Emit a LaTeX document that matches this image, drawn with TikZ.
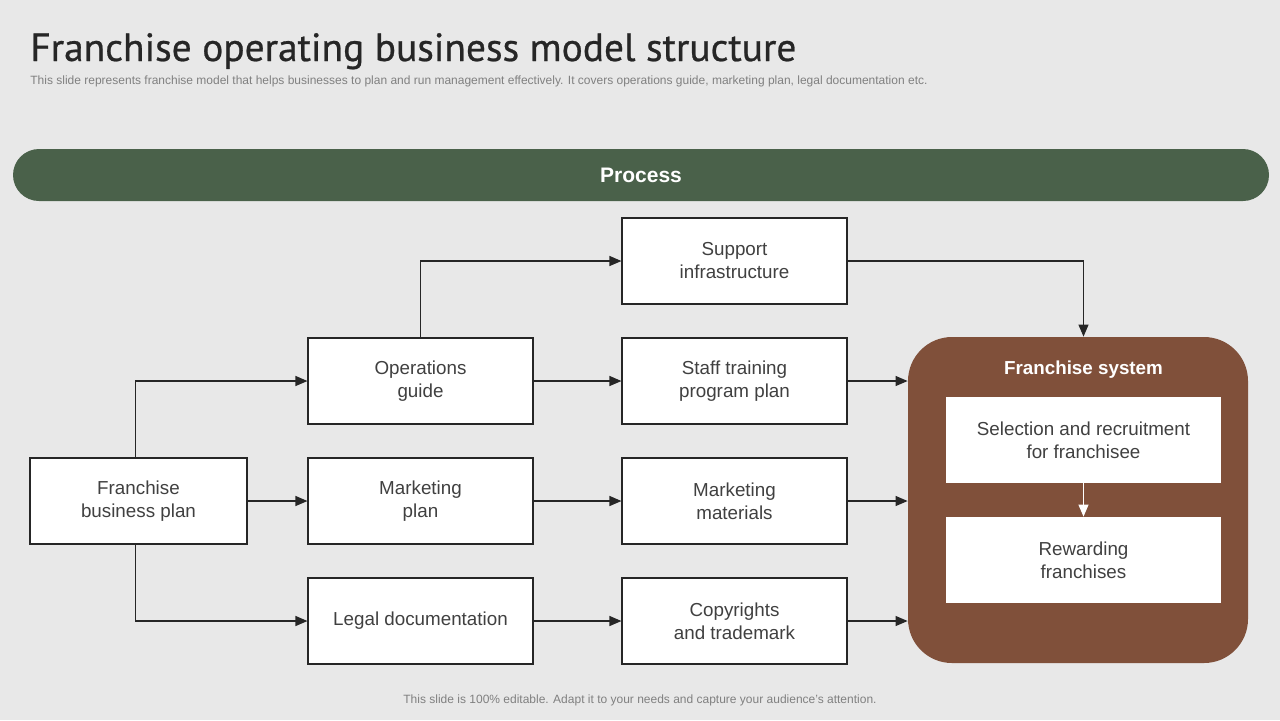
\documentclass[tikz,border=0pt]{standalone}
\usepackage{fontspec}
\setmainfont{Liberation Sans}
\newfontfamily\titlefont[FakeBold=0.6]{PT Sans}
\usetikzlibrary{arrows.meta}

\definecolor{slidebg}{HTML}{E8E8E8}
\definecolor{procgreen}{HTML}{4A614A}
\definecolor{sysbrown}{HTML}{80503A}
\definecolor{boxtext}{HTML}{404040}

\tikzset{
  box/.style={draw=black!85, line width=0.55pt, fill=white, minimum width=112.5pt,
    minimum height=43pt, align=center, text=boxtext,
    font=\fontsize{9.4}{11.5}\selectfont},
  innerbox/.style={fill=white, minimum width=137.5pt, minimum height=43pt,
    align=center, text=boxtext, font=\fontsize{9.4}{11.5}\selectfont},
  arr/.style={-{Triangle[length=6pt, width=5pt]}, line width=0.55pt, draw=black!85}
}

\begin{document}
\begin{tikzpicture}[x=0.5pt, y=-0.5pt]
    \useasboundingbox (0, 0) rectangle (1280, 720);
    \fill [slidebg] (0, 0) rectangle (1280, 720);

    \node [anchor=base west, inner sep=0, text=black!85,
      font=\titlefont\fontsize{19.7}{21}\selectfont] (title) at (30, 61)
      {Franchise operating business model structure};
    \node [anchor=base west, inner sep=0, text=black!50,
      font=\fontsize{6}{7}\selectfont] (subtitle) at (30, 84)
      {This slide represents franchise model that helps businesses to plan and run management effectively. It covers operations guide, marketing plan, legal documentation etc.};

    \node [fill=procgreen, rounded corners=13pt, minimum width=628pt, minimum height=26pt,
      text=white, font=\bfseries\fontsize{10.5}{12}\selectfont] (process) at (641, 175) {Process};

    \node [box, minimum width=108.5pt] (fbp) at (138.5, 501) {Franchise\\business plan};

    \node [box] (ops) at (420.5, 381) {Operations\\guide};
    \node [box] (mkp) at (420.5, 501) {Marketing\\plan};
    \node [box] (legal) at (420.5, 621) {Legal documentation};

    \node [box] (sup) at (734.5, 261) {Support\\infrastructure};
    \node [box] (staff) at (734.5, 381) {Staff training\\program plan};
    \node [box] (mkm) at (734.5, 501) {Marketing\\materials};
    \node [box] (copy) at (734.5, 621) {Copyrights\\and trademark};

    \node [fill=sysbrown, rounded corners=22pt, minimum width=170pt, minimum height=163pt]
      (fsys) at (1078, 500) {};
    \node [text=white, font=\bfseries\fontsize{9.4}{11}\selectfont] (fsyslabel) at (1083.5, 370)
      {Franchise system};
    \node [innerbox] (sel) at (1083.5, 440) {Selection and recruitment\\for franchisee};
    \node [innerbox] (rew) at (1083.5, 560) {Rewarding\\franchises};

    \draw [arr] ([xshift=-1.5pt]fbp.north) |- (ops.west);
    \draw [arr] (fbp.east) -- (mkp.west);
    \draw [arr] ([xshift=-1.5pt]fbp.south) |- (legal.west);

    \draw [arr] (ops.north) |- (sup.west);
    \draw [arr] (ops.east) -- (staff.west);
    \draw [arr] (mkp.east) -- (mkm.west);
    \draw [arr] (legal.east) -- (copy.west);

    \draw [arr] (sup.east) -| (fsys.north -| sel.north);
    \draw [arr] (staff.east) -- (staff.east -| fsys.west);
    \draw [arr] (mkm.east) -- (mkm.east -| fsys.west);
    \draw [arr] (copy.east) -- (copy.east -| fsys.west);

    \draw [arr, draw=white, fill=white] (sel.south) -- (rew.north);

    \node [text=black!50, font=\fontsize{6}{7}\selectfont] (footer) at (640, 700)
      {This slide is 100\% editable. Adapt it to your needs and capture your audience's attention.};
\end{tikzpicture}
\end{document}
